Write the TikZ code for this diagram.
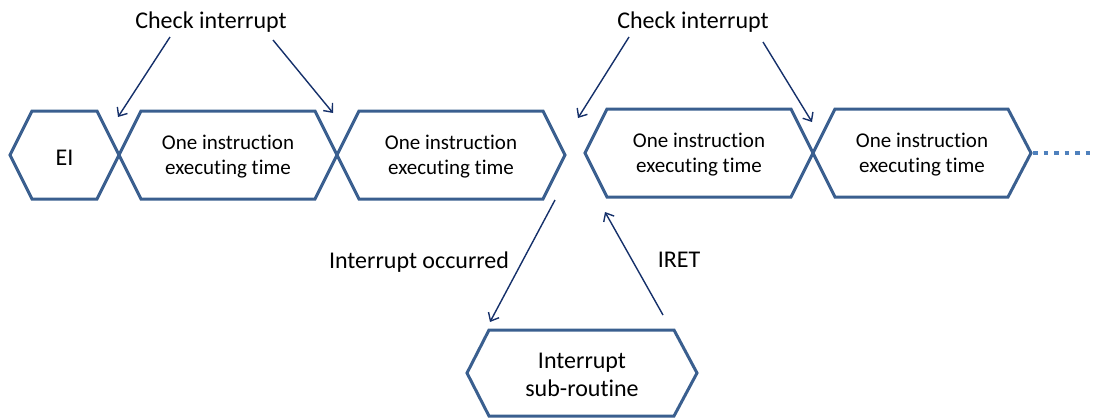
\documentclass[tikz,border=0pt]{standalone}
\usepackage{fontspec}
\setmainfont{Carlito}[Ligatures=NoCommon]
\usetikzlibrary{arrows.meta}
\definecolor{hexblue}{HTML}{3A5F8F}
\definecolor{arrblue}{HTML}{15306A}
\definecolor{dotblue}{HTML}{4F81BD}
\tikzset{
 hexline/.style={draw=hexblue, line width=3pt, line join=miter},
 hexlabel/.style={align=center, font=\fontsize{21}{25}\selectfont, inner sep=0pt},
 biglabel/.style={align=center, font=\fontsize{24}{28}\selectfont, inner sep=0pt},
 arr/.style={draw=arrblue, line width=1.4pt, -{Straight Barb[length=7pt,width=12pt]}},
 dotline/.style={draw=dotblue, line width=4.5pt, dash pattern=on 4.5pt off 6pt},
}
\begin{document}
\begin{tikzpicture}[x=1pt,y=-1pt]
\useasboundingbox (0,0) rectangle (1093,418);
% hexagons
\draw[hexline] (10,155) -- (32,111) -- (97,111) -- (119,155) -- (97,199) -- (32,199) -- cycle;
\draw[hexline] (119,155) -- (141,111) -- (315,111) -- (337,155) -- (315,199) -- (141,199) -- cycle;
\draw[hexline] (337,155) -- (359,111) -- (543,111) -- (565,155) -- (543,199) -- (359,199) -- cycle;
\draw[hexline] (585,153) -- (607,109) -- (791,109) -- (813,153) -- (791,197) -- (607,197) -- cycle;
\draw[hexline] (813,153) -- (835,109) -- (1008,109) -- (1031,153) -- (1008,197) -- (835,197) -- cycle;
\draw[hexline] (467,373) -- (489,330) -- (674,330) -- (697,373) -- (674,416) -- (489,416) -- cycle;
% dotted continuation
\coordinate (dotstart) at (1033,153);
\coordinate (dotend) at (1093,153);
\draw[dotline] (dotstart) -- (dotend);
% labels in hexagons
\node[biglabel, anchor=base] (ei) at (64.5,165) {EI};
\node[hexlabel] (h2) at (228,157) {One instruction\\executing time};
\node[hexlabel] (h3) at (451,157) {One instruction\\executing time};
\node[hexlabel] (h4) at (699,155) {One instruction\\executing time};
\node[hexlabel] (h5) at (922,155) {One instruction\\executing time};
\node[biglabel] (isr) at (582,375) {Interrupt\\sub-routine};
% free labels
\node[biglabel, anchor=base] (ci1) at (211,28) {Check interrupt};
\node[biglabel, anchor=base] (ci2) at (693,28) {Check interrupt};
\node[biglabel, anchor=base] (io) at (419,268) {Interrupt occurred};
\node[biglabel, anchor=base] (iret) at (679,267) {IRET};
% arrow end points
\coordinate (a1s) at (170,37);  \coordinate (a1e) at (118,117);
\coordinate (a2s) at (273,40);  \coordinate (a2e) at (333,113);
\coordinate (a3s) at (629,37);  \coordinate (a3e) at (578,118);
\coordinate (a4s) at (763,42);  \coordinate (a4e) at (812,122);
\coordinate (a5s) at (555,200); \coordinate (a5e) at (490,322);
\coordinate (a6s) at (663,315); \coordinate (a6e) at (605,212);
\draw[arr] (a1s) -- (a1e);
\draw[arr] (a2s) -- (a2e);
\draw[arr] (a3s) -- (a3e);
\draw[arr] (a4s) -- (a4e);
\draw[arr] (a5s) -- (a5e);
\draw[arr] (a6s) -- (a6e);
\end{tikzpicture}
\end{document}
